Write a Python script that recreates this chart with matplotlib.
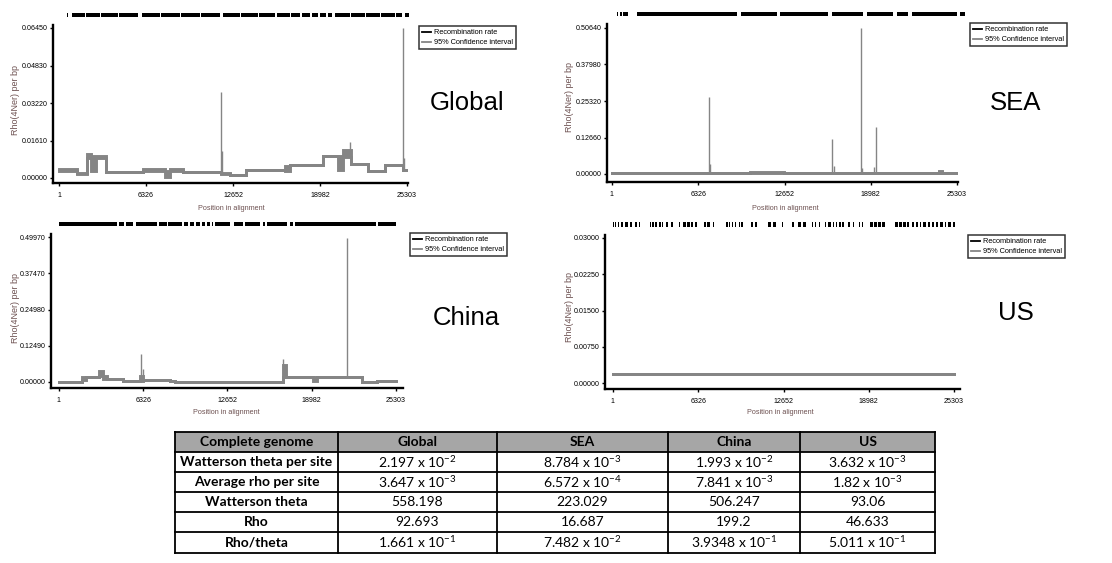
import numpy as np
import matplotlib
matplotlib.use("Agg")
import matplotlib.pyplot as plt
from matplotlib.lines import Line2D
from matplotlib.patches import Rectangle
import matplotlib.transforms as mtransforms

plt.rcParams['font.family'] = ['Liberation Sans', 'DejaVu Sans']
plt.rcParams['mathtext.fontset'] = 'custom'
plt.rcParams['mathtext.rm'] = 'Lato'
plt.rcParams['mathtext.it'] = 'Lato:italic'
plt.rcParams['mathtext.bf'] = 'Lato:bold'

W, H = 1112, 563
fig = plt.figure(figsize=(W / 100, H / 100), dpi=100)

# ---------------- shared axis definitions ----------------
X_FIRST, X_LAST = 1, 25303
x_ticks = [1, 6326, 12652, 18982, 25303]
x_ticklabels = ["1", "6326", "12652", "18982", "25303"]

# ---------------- Global ----------------
global_edges = [1, 1310, 2037, 2352, 2716, 3395, 6109, 7685, 8049, 9018, 11806,
                12412, 13624, 16412, 16775, 19199, 20290, 20653, 21259, 22471,
                23683, 25016, 25303]
global_rate = [0.0035, 0.0021, 0.0095, 0.0050, 0.0090, 0.0024, 0.0036, 0.0012,
               0.0033, 0.0024, 0.0021, 0.0011, 0.0033, 0.0046, 0.0054, 0.0093,
               0.0060, 0.0110, 0.0061, 0.0029, 0.0057, 0.0036]
global_lo = [0.0031, 0.0019, 0.0085, 0.0029, 0.0086, 0.0024, 0.0031, 0.0005,
             0.0030, 0.0024, 0.0018, 0.0011, 0.0033, 0.0030, 0.0054, 0.0093,
             0.0033, 0.0090, 0.0061, 0.0029, 0.0057, 0.0036]
global_hi = [0.0040, 0.0023, 0.0104, 0.0093, 0.0094, 0.0024, 0.0040, 0.0030,
             0.0037, 0.0024, 0.0023, 0.0011, 0.0033, 0.0050, 0.0054, 0.0093,
             0.0093, 0.0120, 0.0061, 0.0029, 0.0057, 0.0036]
global_spike_pos = [11806, 11860, 21140, 25016, 25070]
global_spike_top = [0.0371, 0.0114, 0.0153, 0.0645, 0.0086]
global_yticks = [0.0, 0.0161, 0.0322, 0.0483, 0.0645]
global_yticklabels = ["0.00000", "0.01610", "0.03220", "0.04830", "0.06450"]
global_sites = [(560, 654), (945, 1890), (1963, 2981), (3053, 4289), (4362, 5743),
                (6034, 7343), (7415, 8797), (8869, 10251), (10323, 11705),
                (11923, 13159), (13231, 14467), (14540, 15703), (15849, 16794),
                (16866, 17521), (17666, 18248), (18393, 18829), (18975, 19411),
                (19556, 19847), (20065, 21155), (21228, 22246), (22319, 23337),
                (23409, 24427), (24500, 24936), (25154, 25450)]

# ---------------- SEA ----------------
sea_edges = [1, 10115, 12638, 19348, 20719, 23340, 23952, 24197, 24442, 25303]
sea_rate = [0.002, 0.004, 0.002, 0.0046, 0.002, 0.0046, 0.008, 0.0035, 0.002]
sea_lo = [0.002, 0.002, 0.002, 0.0040, 0.002, 0.0040, 0.006, 0.0030, 0.002]
sea_hi = [0.002, 0.006, 0.002, 0.0052, 0.002, 0.0052, 0.010, 0.0040, 0.002]
sea_spike_pos = [7128, 7177, 16164, 16262, 18295, 18368, 19250, 19348]
sea_spike_top = [0.268, 0.0345, 0.121, 0.0265, 0.5064, 0.0207, 0.024, 0.1646]
sea_yticks = [0.0, 0.1266, 0.2532, 0.3798, 0.5064]
sea_yticklabels = ["0.00000", "0.12660", "0.25320", "0.37980", "0.50640"]
sea_sites = [(345, 462), (587, 711), (829, 1196), (1811, 9145), (9439, 12079),
             (12321, 15864), (16113, 18430), (18680, 20631), (20880, 21731),
             (21980, 25280), (25523, 25890)]

# ---------------- China ----------------
china_edges = [1, 1703, 2028, 3005, 3330, 3580, 4782, 6083, 6334, 8336, 8711,
               16796, 17046, 19049, 19349, 22728, 23855, 25303]
china_rate = [0.0015, 0.0137, 0.017, 0.036, 0.019, 0.011, 0.0023, 0.004, 0.0057,
              0.0023, 0.0015, 0.040, 0.017, 0.004, 0.017, 0.0015, 0.0046]
china_lo = [0.0015, 0.006, 0.017, 0.019, 0.011, 0.011, 0.0023, 0.002, 0.0057,
            0.0023, 0.0015, 0.017, 0.017, 0.002, 0.017, 0.0015, 0.0046]
china_hi = [0.0015, 0.017, 0.017, 0.039, 0.020, 0.011, 0.0023, 0.020, 0.0057,
            0.0023, 0.0015, 0.060, 0.017, 0.017, 0.017, 0.0015, 0.0046]
china_spike_pos = [6183, 6283, 16846, 21602]
china_spike_top = [0.096, 0.046, 0.079, 0.496]
china_yticks = [0.0, 0.1249, 0.2498, 0.3747, 0.4997]
china_yticklabels = ["0.00000", "0.12490", "0.24980", "0.37470", "0.49970"]
china_sites = [(1, 4331), (4506, 4882), (5007, 5583), (5783, 7335), (7535, 8086),
               (8211, 9212), (9387, 9713), (9838, 10138), (10288, 10588),
               (10714, 10964), (11139, 11339), (11464, 11590), (11715, 12841),
               (13141, 13842), (13967, 15094), (15294, 15469), (15594, 17146),
               (17346, 17596), (17721, 23804), (23979, 25303)]

# ---------------- US ----------------
us_edges = [1, 25303]
us_rate = [0.00182]
us_lo = [0.00182]
us_hi = [0.00182]
us_spike_pos = []
us_spike_top = []
us_yticks = [0.0, 0.0075, 0.015, 0.0225, 0.03]
us_yticklabels = ["0.00000", "0.00750", "0.01500", "0.02250", "0.03000"]
us_site_start = [1, 124, 371, 619, 916, 1238, 1609, 1931, 2724, 2922, 3145, 3392,
                 3640, 3962, 4333, 4878, 5200, 5522, 5819, 6066, 6735, 7007, 7428,
                 8418, 8616, 8839, 9037, 9334, 9532, 10275, 10573, 11513, 11885,
                 12504, 13247, 13742, 14113, 14732, 14980, 15277, 15723, 15970,
                 16292, 16540, 16787, 17010, 17456, 17778, 18248, 18446, 19065,
                 19362, 19684, 19981, 20922, 21219, 21541, 21789, 22160, 22457,
                 22779, 23027, 23349, 23646, 23943, 24265, 24636, 24884, 25255]
us_site_wide = [0, 0, 0, 0, 1, 1, 1, 0, 0, 0, 0, 1,
                0, 0, 0, 0, 1, 1, 0, 1, 1, 1, 0,
                0, 0, 0, 0, 0, 0, 0, 0, 1, 1,
                0, 1, 1, 1, 0, 0, 0, 0, 1,
                0, 0, 0, 0, 0, 0, 0, 0, 1,
                1, 1, 1, 1, 1, 1, 1, 1, 1,
                0, 1, 1, 1, 1, 1, 0, 1, 0]
us_sites = [(s, s + (200 if w else 100)) for s, w in zip(us_site_start, us_site_wide)]

# ---------------- summary table ----------------
table_header = ["Complete genome", "Global", "SEA", "China", "US"]
table_rows = ["Watterson theta per site", "Average rho per site",
              "Watterson theta", "Rho", "Rho/theta"]
table_global = [r"2.197 x 10$^{-2}$", r"3.647 x 10$^{-3}$", "558.198", "92.693",
                r"1.661 x 10$^{-1}$"]
table_sea = [r"8.784 x 10$^{-3}$", r"6.572 x 10$^{-4}$", "223.029", "16.687",
             r"7.482 x 10$^{-2}$"]
table_china = [r"1.993 x 10$^{-2}$", r"7.841 x 10$^{-3}$", "506.247", "199.2",
               r"3.9348 x 10$^{-1}$"]
table_us = [r"3.632 x 10$^{-3}$", r"1.82 x 10$^{-3}$", "93.06", "46.633",
            r"5.011 x 10$^{-1}$"]

GRAY = "#858585"
LABEL_COLOR = "#6e5252"


def draw_panel(name, edges, rate, lo, hi, spike_pos, spike_top, yticks, yticklabels,
               sites, geom, rug_px, legend_px, name_px, ylabel_px, xlabel_px):
    sx, x_first, x_last, x_right, y_top, y_toptick, y_zero, sy = geom
    bp_per_px = (X_LAST - X_FIRST) / (x_last - x_first)
    ymax = yticks[-1]
    v_per_px = ymax / (y_zero - y_toptick)
    ax = fig.add_axes([sx / W, 1 - sy / H, (x_right - sx) / W, (sy - y_top) / H])
    ax.set_xlim(X_FIRST - (x_first - sx) * bp_per_px, X_LAST + (x_right - x_last) * bp_per_px)
    ax.set_ylim(-(sy - y_zero) * v_per_px, ymax + (y_toptick - y_top) * v_per_px)

    xe = np.asarray(edges, dtype=float)
    r = np.append(rate, rate[-1])
    l = np.append(lo, lo[-1])
    h = np.append(hi, hi[-1])
    ax.step(xe, r, where="post", color="black", lw=0.6, zorder=2)
    ax.fill_between(xe, l, h, step="post", color=GRAY, lw=0, zorder=3)
    ax.step(xe, l, where="post", color=GRAY, lw=2.1, zorder=3, solid_joinstyle="miter")
    ax.step(xe, h, where="post", color=GRAY, lw=2.1, zorder=3, solid_joinstyle="miter")
    if spike_pos:
        idx = np.clip(np.searchsorted(xe, spike_pos, side="right") - 1, 0, len(rate) - 1)
        base = np.asarray(rate)[idx]
        ax.vlines(spike_pos, base, spike_top, color=GRAY, lw=1.0, zorder=3)

    # segregating sites along the top
    t0, t1 = rug_px
    f_lo = (sy - t1) / (sy - y_top)
    f_hi = (sy - t0) / (sy - y_top)
    trans = mtransforms.blended_transform_factory(ax.transData, ax.transAxes)
    ax.broken_barh([(a, b - a) for a, b in sites], (f_lo, f_hi - f_lo),
                   transform=trans, facecolor="black", edgecolor="none", clip_on=False)

    for side in ("top", "right"):
        ax.spines[side].set_visible(False)
    for side in ("left", "bottom"):
        ax.spines[side].set_linewidth(1.7)
    ax.set_xticks(x_ticks)
    ax.set_xticklabels(x_ticklabels)
    ax.set_yticks(yticks)
    ax.set_yticklabels(yticklabels)
    ax.tick_params(axis="both", labelsize=5.1, length=2.2, width=1.0, pad=1.5)
    ax.tick_params(axis="x", pad=4)

    fig.text(ylabel_px[0] / W, 1 - ylabel_px[1] / H, "Rho(4Ner) per bp", rotation=90,
             ha="center", va="center", fontsize=6.5, color=LABEL_COLOR)
    fig.text(xlabel_px[0] / W, 1 - xlabel_px[1] / H, "Position in alignment",
             ha="center", va="center", fontsize=5.2, color=LABEL_COLOR)
    fig.text(name_px[0] / W, 1 - name_px[1] / H, name, ha="center", va="center",
             fontsize=18.5, color="black")

    handles = [Line2D([], [], color="black", lw=1.3), Line2D([], [], color=GRAY, lw=1.3)]
    leg = ax.legend(handles, ["Recombination rate", "95% Confidence interval"],
                    loc="upper left", bbox_to_anchor=(legend_px[0] / W, 1 - legend_px[1] / H),
                    bbox_transform=fig.transFigure, fontsize=5.3, frameon=True,
                    fancybox=False, borderpad=0.4, handlelength=1.2, handletextpad=0.5,
                    labelspacing=0.4, borderaxespad=0)
    leg.get_frame().set_edgecolor("black")
    leg.get_frame().set_linewidth(1.1)
    return ax


draw_panel("Global", global_edges, global_rate, global_lo, global_hi,
           global_spike_pos, global_spike_top, global_yticks, global_yticklabels,
           global_sites, (53, 59, 407, 408, 25, 28, 178, 183), (13, 17),
           (419, 26), (467, 103), (15, 100), (231, 209))
draw_panel("SEA", sea_edges, sea_rate, sea_lo, sea_hi,
           sea_spike_pos, sea_spike_top, sea_yticks, sea_yticklabels,
           sea_sites, (607, 612, 957, 958, 24, 28, 174, 182), (12, 16),
           (970, 23), (1016, 103), (570, 97), (785, 209))
draw_panel("China", china_edges, china_rate, china_lo, china_hi,
           china_spike_pos, china_spike_top, china_yticks, china_yticklabels,
           china_sites, (51, 59, 396, 403, 234, 237, 382, 388), (222, 226),
           (410, 233), (466, 318), (15, 308), (226, 413))
draw_panel("US", us_edges, us_rate, us_lo, us_hi,
           us_spike_pos, us_spike_top, us_yticks, us_yticklabels,
           us_sites, (605, 613, 954, 960, 235, 238, 383, 389), (222, 227),
           (968, 235), (1016, 313), (570, 307), (780, 413))

# ---------------- table ----------------
tab = fig.add_axes([0, 0, 1, 1], zorder=-1)
tab.set_xlim(0, W)
tab.set_ylim(H, 0)
tab.axis("off")
col_edges = [175, 338, 497, 668, 800, 935]
row_edges = [432, 452, 472, 492, 512, 532, 553]
tab.add_patch(Rectangle((col_edges[0], row_edges[0]), col_edges[-1] - col_edges[0],
                        row_edges[1] - row_edges[0], facecolor="#a6a6a6", edgecolor="none"))
for x in col_edges:
    tab.plot([x, x], [row_edges[0], row_edges[-1]], color="black", lw=1.3,
             solid_capstyle="projecting")
for y in row_edges:
    tab.plot([col_edges[0], col_edges[-1]], [y, y], color="black", lw=1.3,
             solid_capstyle="projecting")

columns = [table_rows, table_global, table_sea, table_china, table_us]
for c in range(5):
    cx = (col_edges[c] + col_edges[c + 1]) / 2
    cy = (row_edges[0] + row_edges[1]) / 2
    tab.text(cx, cy, table_header[c], ha="center", va="center", fontsize=10,
             family="Lato", weight="bold")
    for r, val in enumerate(columns[c]):
        cy = (row_edges[r + 1] + row_edges[r + 2]) / 2
        tab.text(cx, cy, val, ha="center", va="center", fontsize=10, family="Lato",
                 weight="bold" if c == 0 else "normal")

fig.savefig("out.png", dpi=100)
